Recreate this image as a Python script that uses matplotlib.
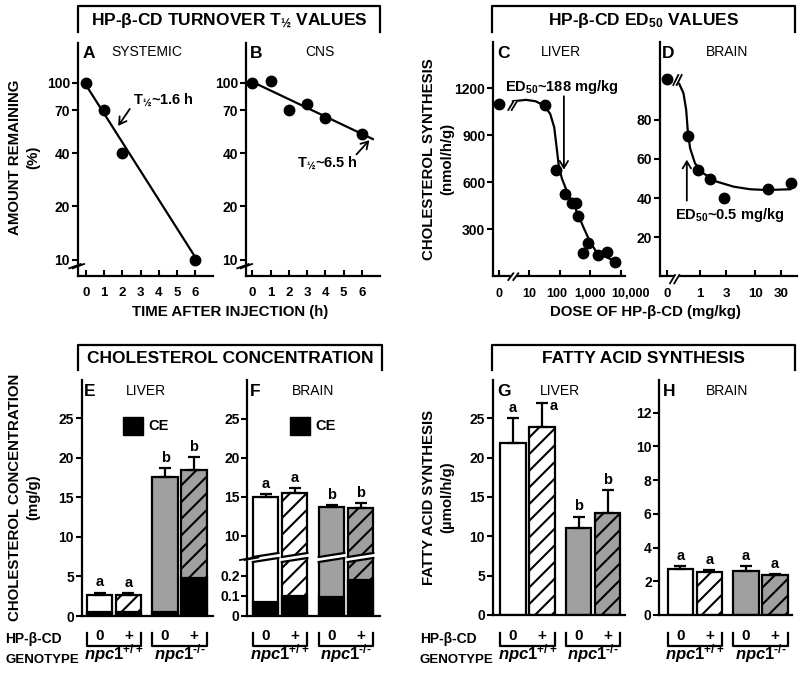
import numpy as np
import matplotlib
matplotlib.use("Agg")
import matplotlib.pyplot as plt
from matplotlib.lines import Line2D
from matplotlib.patches import Polygon, Rectangle
from matplotlib.transforms import blended_transform_factory, ScaledTranslation

plt.rcParams['font.family'] = ['Liberation Sans', 'DejaVu Sans']
plt.rcParams['font.weight'] = 'bold'
plt.rcParams['mathtext.fontset'] = 'custom'
plt.rcParams['mathtext.rm'] = 'Liberation Sans:bold'
plt.rcParams['mathtext.it'] = 'Liberation Sans:italic:bold'
plt.rcParams['mathtext.bf'] = 'Liberation Sans:bold'
plt.rcParams['hatch.linewidth'] = 1.5
plt.rcParams['axes.linewidth'] = 1.6

W, H = 800, 675

# ---- A / B : turnover (% remaining vs h) ----
a_time = [0, 1, 2, 6]
a_pct = [100, 70, 40, 10]
a_fit_t = [0, 6]
a_fit_pct = [97, 10.3]
b_time = [0, 1, 2, 3, 4, 6]
b_pct = [100, 102, 70, 76, 63, 51]
b_fit_t = [0, 6.6]
b_fit_pct = [101, 48]
pct_ticks = [10, 20, 40, 70, 100]
time_ticks = [0, 1, 2, 3, 4, 5, 6]

# ---- C : liver cholesterol synthesis vs dose ----
c_dose = [0, 32, 72, 150, 250, 340, 400, 560, 800, 1700, 3600, 6300]
c_synth = [1100, 1095, 682, 527, 470, 470, 385, 149, 212, 136, 155, 94]
c_curve_dose = [2.9, 7.8, 16, 30, 48, 65, 78, 93, 117, 174, 324, 589, 977, 1585, 3388, 7943]
c_curve_synth = [1118, 1127, 1118, 1091, 1038, 952, 825, 697, 623, 538, 432, 314, 219, 155, 123, 87]
c_tick_dose = [0, 10, 100, 1000, 10000]
c_tick_labels = ['0', '10', '100', '1,000', '10,000']

# ---- D : brain cholesterol synthesis vs dose ----
d_dose = [0, 0.6, 0.9, 1.5, 2.75, 17, 44]
d_synth = [100.6, 71.7, 54.3, 49.7, 39.9, 44.5, 47.9]
d_curve_dose = [0.42, 0.5, 0.56, 0.6, 0.66, 0.81, 1.15, 2.0, 4.1, 8.1, 16.2, 43.6]
d_curve_synth = [98.2, 93.5, 85, 73.9, 65.4, 57.7, 52.6, 48.4, 45.8, 44.5, 44.1, 44.5]
d_tick_dose = [0, 1, 3, 10, 30]

# ---- E-H : bars (npc1+/+ 0, +, npc1-/- 0, +) ----
hp_labels = ['0', '+', '0', '+']
genotypes = [r'$\mathit{npc1}^{+/+}$', '$\\mathit{npc1}^{\u2010/\u2010}$']
e_total = [2.65, 2.65, 17.6, 18.5]
e_err = [0.3, 0.25, 1.15, 1.6]
e_ce = [0.55, 0.55, 0.55, 4.8]
e_letters = ['a', 'a', 'b', 'b']
f_total = [15.0, 15.5, 13.7, 13.5]
f_err = [0.35, 0.6, 0.2, 0.7]
f_ce = [0.068, 0.097, 0.092, 0.18]
f_letters = ['a', 'a', 'b', 'b']
g_rate = [21.9, 23.9, 11.1, 13.0]
g_err = [3.1, 3.0, 1.4, 2.9]
g_letters = ['a', 'a', 'b', 'b']
h_rate = [2.75, 2.53, 2.63, 2.37]
h_err = [0.17, 0.14, 0.29, 0.06]
h_letters = ['a', 'a', 'a', 'a']

xpos = [0, 1, 2.27, 3.27]
BW = 0.88
fills = ['white', 'white', '#a0a0a0', '#a0a0a0']
hatches = [None, '//', None, '//']

fig = plt.figure(figsize=(8, 6.75), dpi=100)


def fx(x):
    return x / W


def fy(y):
    return 1 - y / H


def px_axes(l, t, r, b):
    return fig.add_axes([l / W, 1 - b / H, (r - l) / W, (b - t) / H])


def ftext(x, y, s, **kw):
    fig.text(fx(x), fy(y), s, **kw)


def fline(xs, ys, lw=1.6):
    fig.add_artist(Line2D([fx(v) for v in xs], [fy(v) for v in ys], color='k', lw=lw,
                          transform=fig.transFigure))


def style(ax):
    ax.spines['top'].set_visible(False)
    ax.spines['right'].set_visible(False)
    ax.tick_params(axis='y', direction='out', length=4, width=1.5, labelsize=10, pad=1.5)
    ax.tick_params(axis='x', direction='in', length=4, width=1.5, labelsize=9.5, pad=8)


def break_mark(x0, y0, dx, dy, gap):
    # two parallel slashes with white between them (pixel coords)
    pts = [(x0, y0), (x0 + dx, y0 - dy), (x0 + dx + gap, y0 - dy), (x0 + gap, y0)]
    fig.add_artist(Polygon([(fx(a), fy(b)) for a, b in pts], closed=True, color='white',
                           transform=fig.transFigure, zorder=5))
    for g in (0, gap):
        fig.add_artist(Line2D([fx(x0 + g), fx(x0 + dx + g)], [fy(y0), fy(y0 - dy)], color='k',
                              lw=1.3, transform=fig.transFigure, zorder=6))


def bracket_title(l, r, s):
    fline([l, l, r, r], [32, 6, 6, 32])
    ftext((l + r) / 2, 21, s, ha='center', va='center', fontsize=12.5)


def bracket_title2(l, r, s):
    fline([l, l, r, r], [370, 345, 345, 370])
    ftext((l + r) / 2, 359, s, ha='center', va='center', fontsize=12.5)


def ylab(x, y, s):
    ftext(x, y, s, rotation=90, ha='center', va='center', fontsize=10.8, linespacing=1.45)


# ===== top brackets =====
bracket_title(78, 380, r'HP-β-CD TURNOVER T$_{½}$ VALUES')
bracket_title(492, 795, r'HP-β-CD ED$_{50}$ VALUES')

# ===== A / B =====
axA = px_axes(77.7, 42.7, 213, 276)
axB = px_axes(245.7, 42.7, 380, 276)
for ax, t, p, ft, fp in [(axA, a_time, a_pct, a_fit_t, a_fit_pct),
                         (axB, b_time, b_pct, b_fit_t, b_fit_pct)]:
    style(ax)
    ax.set_yscale('log')
    ax.plot(ft, fp, 'k-', lw=1.6)
    ax.plot(t, p, 'ko', ms=7.5)
    ax.set_ylim(8.1, 168)
    ax.set_xlim(-0.45, 6.96)
    ax.set_yticks(pct_ticks)
    ax.set_yticklabels([str(v) for v in pct_ticks])
    ax.yaxis.set_minor_locator(plt.NullLocator())
    ax.set_xticks(time_ticks)
    ax.set_xticklabels([str(v) for v in time_ticks])
axB.set_xlim(-0.36, 6.99)
axA.annotate('', xy=(1.68, 55.3), xytext=(2.49, 73.2),
             arrowprops=dict(arrowstyle='->,head_length=0.5,head_width=0.3', lw=1.3, color='k'))
axA.text(2.57, 80, r'T$_{½}$~1.6 h', ha='left', va='center', fontsize=10.5)
axB.annotate('', xy=(6.51, 48.6), xytext=(5.6, 38.3),
             arrowprops=dict(arrowstyle='->,head_length=0.5,head_width=0.3', lw=1.3, color='k'))
axB.text(2.44, 35.2, r'T$_{½}$~6.5 h', ha='left', va='center', fontsize=10.5)
break_mark(69.3, 268.3, 11.4, 4.3, 3.4)
break_mark(237.3, 268.3, 11.4, 4.3, 3.4)
ylab(24, 157, 'AMOUNT REMAINING\n(%)')
ftext(230, 312, 'TIME AFTER INJECTION (h)', ha='center', va='center', fontsize=10.8)


# ===== C =====
def c_pos(d):
    return [np.log10(v) if v > 0 else 0.0 for v in d]


axC = px_axes(493, 42, 625, 276.5)
style(axC)
axC.plot(c_pos(c_curve_dose), c_curve_synth, 'k-', lw=1.6)
axC.plot(c_pos(c_dose), c_synth, 'ko', ms=7.5)
axC.set_xlim(-0.19, 4.13)
axC.set_ylim(0, 1496)
axC.set_yticks([300, 600, 900, 1200])
axC.set_xticks(c_pos(c_tick_dose))
axC.set_xticklabels(c_tick_labels, fontsize=9)
# labels crowd at the right end, as in the source: nudge them apart
for lab, dx in zip(axC.get_xticklabels(), [0, 0, -3, 0, 9]):
    lab.set_transform(lab.get_transform() + ScaledTranslation(dx / 100, 0, fig.dpi_scale_trans))
axC.annotate('', xy=(2.13, 664), xytext=(2.13, 1168),
             arrowprops=dict(arrowstyle='->,head_length=0.5,head_width=0.3', lw=1.3, color='k'))
axC.text(2.06, 1206, r'ED$_{50}$~188 mg/kg', ha='center', va='center', fontsize=10.5)
break_mark(508.3, 280, 5, 6.7, 5)
break_mark(508.3, 110, 5, 8.3, 3.4)

# ===== D =====
D_ZERO = -0.605


def d_pos(d):
    return [np.log10(v) if v > 0 else D_ZERO for v in d]


axD = px_axes(660, 42, 797, 276.5)
style(axD)
axD.plot(d_pos(d_curve_dose), d_curve_synth, 'k-', lw=1.6)
axD.plot(d_pos(d_dose), d_synth, 'ko', ms=7.5)
axD.set_xlim(-0.727, 1.76)
axD.set_ylim(0, 119.6)
axD.set_yticks([20, 40, 60, 80])
axD.set_xticks(d_pos(d_tick_dose))
axD.set_xticklabels([str(v) for v in d_tick_dose])
axD.annotate('', xy=(-0.24, 61), xytext=(-0.24, 37.3),
             arrowprops=dict(arrowstyle='->,head_length=0.5,head_width=0.3', lw=1.3, color='k'))
axD.text(0.545, 31.4, r'ED$_{50}$~0.5 mg/kg', ha='center', va='center', fontsize=10.5)
break_mark(670, 283.3, 5, 8.3, 4.3)
break_mark(673.3, 85, 5, 10, 3.4)
ylab(438, 159, 'CHOLESTEROL SYNTHESIS\n(nmol/h/g)')
ftext(645, 312, 'DOSE OF HP-β-CD (mg/kg)', ha='center', va='center', fontsize=10.8)

# panel letters / subtitles (top)
for x, s in [(83, 'A'), (250, 'B'), (497, 'C'), (662, 'D')]:
    ftext(x, 53, s, ha='left', va='center', fontsize=12.5)
for x, s in [(147, 'SYSTEMIC'), (320, 'CNS'), (561, 'LIVER'), (727, 'BRAIN')]:
    ftext(x, 52, s, ha='center', va='center', fontsize=10, fontweight='normal')

# ===== bottom brackets =====
bracket_title2(78, 382, 'CHOLESTEROL CONCENTRATION')
bracket_title2(492, 795, 'FATTY ACID SYNTHESIS')


def bar_style(ax):
    ax.spines['top'].set_visible(False)
    ax.spines['right'].set_visible(False)
    ax.set_xticks([])
    ax.tick_params(axis='y', direction='out', length=4, width=1.5, labelsize=10, pad=1.5)


def draw_bars(ax, vals, ce=None):
    for i in range(4):
        ax.bar(xpos[i], vals[i], width=BW, color=fills[i], hatch=hatches[i], edgecolor='k',
               linewidth=1.6, zorder=2)
        if ce is not None:
            ax.bar(xpos[i], ce[i], width=BW, color='k', edgecolor='k', linewidth=1.6, zorder=3)


def draw_err(ax, vals, errs, letters, special=None):
    ax.errorbar(xpos, vals, yerr=[np.zeros(4), errs], fmt='none', ecolor='k', elinewidth=1.6,
                capsize=4.3, capthick=1.6, zorder=4)
    for i in range(4):
        off = (0, 4.5)
        if special is not None and i == special:
            off = (8.6, -5)
        ax.annotate(letters[i], (xpos[i], vals[i] + errs[i]), xytext=off,
                    textcoords='offset points', ha='center', va='baseline', fontsize=10.5)


def hp_rows(ax):
    tr = blended_transform_factory(ax.transData, fig.transFigure)
    for g in range(2):
        xl = xpos[2 * g] - BW / 2
        xr = xpos[2 * g + 1] + BW / 2
        ax.plot([xl, xl, xr, xr], [fy(633), fy(646), fy(646), fy(633)], transform=tr,
                clip_on=False, color='k', lw=1.6)
        for i in (2 * g, 2 * g + 1):
            ax.text(xpos[i], fy(636), hp_labels[i], transform=tr, ha='center', va='center',
                    fontsize=11)
        ax.text((xpos[2 * g] + xpos[2 * g + 1]) / 2, fy(654), genotypes[g], transform=tr,
                ha='center', va='center', fontsize=12)


def ce_legend(x, y):
    fig.add_artist(Rectangle((fx(x), fy(y + 18)), 20 / W, 18 / H, color='k',
                             transform=fig.transFigure))
    ftext(x + 25, y + 9.5, 'CE', ha='left', va='center', fontsize=10.5)


# ===== E =====
axE = px_axes(81.7, 380, 213, 616)
bar_style(axE)
draw_bars(axE, e_total, e_ce)
draw_err(axE, e_total, e_err, e_letters)
axE.set_xlim(-0.62, 3.93)
axE.set_ylim(0, 29.87)
axE.set_yticks([0, 5, 10, 15, 20, 25])
hp_rows(axE)
ce_legend(123, 417)

# ===== F (broken axis) =====
axFt = px_axes(247.3, 380, 380, 559)
axFb = px_axes(247.3, 559, 380, 615.5)
for ax in (axFt, axFb):
    bar_style(ax)
    ax.set_xlim(-0.63, 3.94)
axFt.spines['bottom'].set_visible(False)
draw_bars(axFt, f_total)
draw_err(axFt, f_total, f_err, f_letters)
axFt.set_ylim(7.01, 29.96)
axFt.set_yticks([10, 15, 20, 25])
draw_bars(axFb, f_total, f_ce)
axFb.set_ylim(0, 0.2825)
axFb.set_yticks([0, 0.1, 0.2])
axFb.set_yticklabels(['0', '0.1', '0.2'])
hp_rows(axFb)
ce_legend(290, 417)

# slanted white cut through each F bar and the axis
fig.canvas.draw()
slope = 4.0
for i in range(4):
    xl = axFb.transData.transform((xpos[i] - BW / 2, 0))[0]
    xr = axFb.transData.transform((xpos[i] + BW / 2, 0))[0]
    pts = [(xl - 1.5, 557), (xr + 1.5, 557 - slope), (xr + 1.5, 562 - slope), (xl - 1.5, 562)]
    fig.add_artist(Polygon([(fx(a), fy(b)) for a, b in pts], closed=True, color='white',
                           transform=fig.transFigure, zorder=5))
    for y0 in (557, 562):
        fig.add_artist(Line2D([fx(xl), fx(xr)], [fy(y0), fy(y0 - slope)], color='k', lw=1.6,
                              transform=fig.transFigure, zorder=6))
break_mark(240, 560, 14, 2.5, 4.5)

ylab(24, 497, 'CHOLESTEROL CONCENTRATION\n(mg/g)')

# ===== G =====
axG = px_axes(492.7, 380, 625, 615)
bar_style(axG)
draw_bars(axG, g_rate)
draw_err(axG, g_rate, g_err, g_letters, special=1)
axG.set_xlim(-0.70, 3.87)
axG.set_ylim(0, 29.86)
axG.set_yticks([0, 5, 10, 15, 20, 25])
hp_rows(axG)

# ===== H =====
axH = px_axes(659.3, 380, 792, 615)
bar_style(axH)
draw_bars(axH, h_rate)
draw_err(axH, h_rate, h_err, h_letters)
axH.set_xlim(-0.73, 3.86)
axH.set_ylim(0, 13.94)
axH.set_yticks([0, 2, 4, 6, 8, 10, 12])
hp_rows(axH)

ylab(438, 497, 'FATTY ACID SYNTHESIS\n(µmol/h/g)')

# panel letters / subtitles (bottom)
for x, s in [(84, 'E'), (250, 'F'), (497, 'G'), (663, 'H')]:
    ftext(x, 392, s, ha='left', va='center', fontsize=12.5)
for x, s in [(146, 'LIVER'), (313, 'BRAIN'), (560, 'LIVER'), (727, 'BRAIN')]:
    ftext(x, 391, s, ha='center', va='center', fontsize=10, fontweight='normal')

for x in (5, 420):
    ftext(x, 639, 'HP-β-CD', ha='left', va='center', fontsize=10)
    ftext(x, 660, 'GENOTYPE', ha='left', va='center', fontsize=9.5)

fig.savefig('out.png', dpi=100)
